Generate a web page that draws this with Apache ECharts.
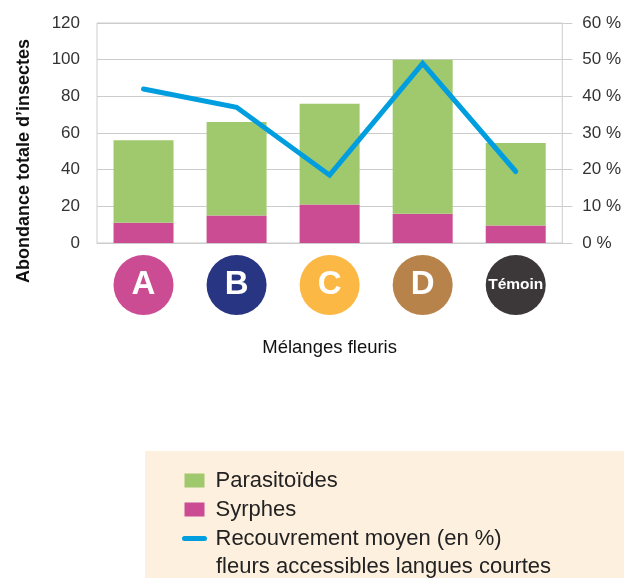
<!DOCTYPE html>
<html>
<head>
<meta charset="utf-8">
<script src="https://cdn.jsdelivr.net/npm/echarts@6/dist/echarts.min.js"></script>
<style>
  html, body { margin: 0; padding: 0; background: #fff; }
  #chart { width: 624px; height: 578px; }
</style>
</head>
<body>
<div id="chart"></div>
<script>
// mélanges fleuris
const categories = ['A', 'B', 'C', 'D', 'Témoin']
const syrphes = [11, 15, 21, 16, 9.5]
const parasitoides = [45, 51, 55, 84, 45]
// recouvrement moyen (%) fleurs accessibles langues courtes
const recouvrement = [42, 37, 18.5, 49, 19.5]
const leftTicks = [0, 20, 40, 60, 80, 100, 120]
const rightTicks = [0, 10, 20, 30, 40, 50, 60]

const circleColors = ['#CC4C94', '#283583', '#FBB845', '#B8834A', '#3C3739']
const font = '"Liberation Sans", Arial, sans-serif'

const rich = {}
categories.forEach(function(c, i) {
  rich['c' + i] = {
    width: 60,
    height: 60,
    lineHeight: 60,
    borderRadius: 30,
    backgroundColor: circleColors[i],
    color: '#fff',
    fontFamily: font,
    fontWeight: 'bold',
    fontSize: c.length > 1 ? 15.5 : 33,
    align: 'center'
  }
})

const myChart = echarts.init(document.getElementById('chart'))
const option = {
  animation: false,
  backgroundColor: '#fff',
  textStyle: { fontFamily: font },
  grid: {
    left: 97,
    right: 61,
    top: 23,
    bottom: 335,
    show: true,
    borderColor: '#cccccc',
    borderWidth: 1
  },
  graphic: [
    {
      type: 'rect',
      shape: { x: 145, y: 451, width: 479, height: 127 },
      style: { fill: '#FDF0DE' },
      z: 0
    },
    {
      type: 'text',
      x: 24,
      y: 161,
      rotation: Math.PI / 2,
      style: {
        text: 'Abondance totale d\u2019insectes',
        fontFamily: font,
        fontWeight: 'bold',
        fontSize: 18,
        fill: '#111',
        align: 'center',
        verticalAlign: 'middle'
      }
    },
    {
      type: 'text',
      x: 216,
      y: 567,
      z: 10,
      style: {
        text: 'fleurs accessibles langues courtes',
        fontFamily: font,
        fontSize: 22,
        fill: '#222',
        align: 'left',
        verticalAlign: 'middle'
      }
    }
  ],
  legend: {
    orient: 'vertical',
    left: 182,
    top: 466,
    padding: 0,
    itemGap: 0,
    itemWidth: 20,
    itemHeight: 14,
    data: [
      { name: 'Parasitoïdes', icon: 'rect' },
      { name: 'Syrphes', icon: 'rect' },
      {
        name: 'Recouvrement moyen (en %)',
        itemStyle: { opacity: 0 },
        lineStyle: { width: 5, cap: 'round' }
      }
    ],
    textStyle: {
      fontFamily: font,
      fontSize: 22,
      color: '#222',
      lineHeight: 29,
      padding: [0, 0, 0, 6]
    }
  },
  xAxis: {
    type: 'category',
    data: categories,
    name: 'Mélanges fleuris',
    nameLocation: 'middle',
    nameGap: 95,
    nameTextStyle: { fontFamily: font, fontSize: 18.5, color: '#111' },
    axisTick: { show: false },
    axisLine: { lineStyle: { color: '#cccccc' } },
    axisLabel: {
      margin: 12,
      interval: 0,
      formatter: function(value) {
        return '{c' + categories.indexOf(value) + '|' + value + '}'
      },
      rich: rich
    }
  },
  yAxis: [
    {
      type: 'value',
      min: leftTicks[0],
      max: leftTicks[leftTicks.length - 1],
      interval: leftTicks[1] - leftTicks[0],
      axisLine: { show: false },
      axisTick: { show: false },
      axisLabel: { margin: 17, fontSize: 17, color: '#333' },
      splitLine: { lineStyle: { color: '#cccccc' } }
    },
    {
      type: 'value',
      min: rightTicks[0],
      max: rightTicks[rightTicks.length - 1],
      interval: rightTicks[1] - rightTicks[0],
      axisLine: { show: false },
      axisTick: { show: true, length: 10, lineStyle: { color: '#cccccc' } },
      axisLabel: { margin: 20, fontSize: 17, color: '#333', formatter: '{value} %' },
      splitLine: { show: false }
    }
  ],
  series: [
    {
      name: 'Syrphes',
      type: 'bar',
      stack: 'total',
      barWidth: 60,
      itemStyle: { color: '#CC4C94' },
      data: syrphes
    },
    {
      name: 'Parasitoïdes',
      type: 'bar',
      stack: 'total',
      barWidth: 60,
      itemStyle: { color: '#A0C96E' },
      data: parasitoides
    },
    {
      name: 'Recouvrement moyen (en %)',
      type: 'line',
      yAxisIndex: 1,
      symbol: 'none',
      itemStyle: { color: '#009EDF' },
      lineStyle: { color: '#009EDF', width: 5, cap: 'round', join: 'miter' },
      data: recouvrement,
      z: 5
    }
  ]
}
myChart.setOption(option)
</script>
</body>
</html>
